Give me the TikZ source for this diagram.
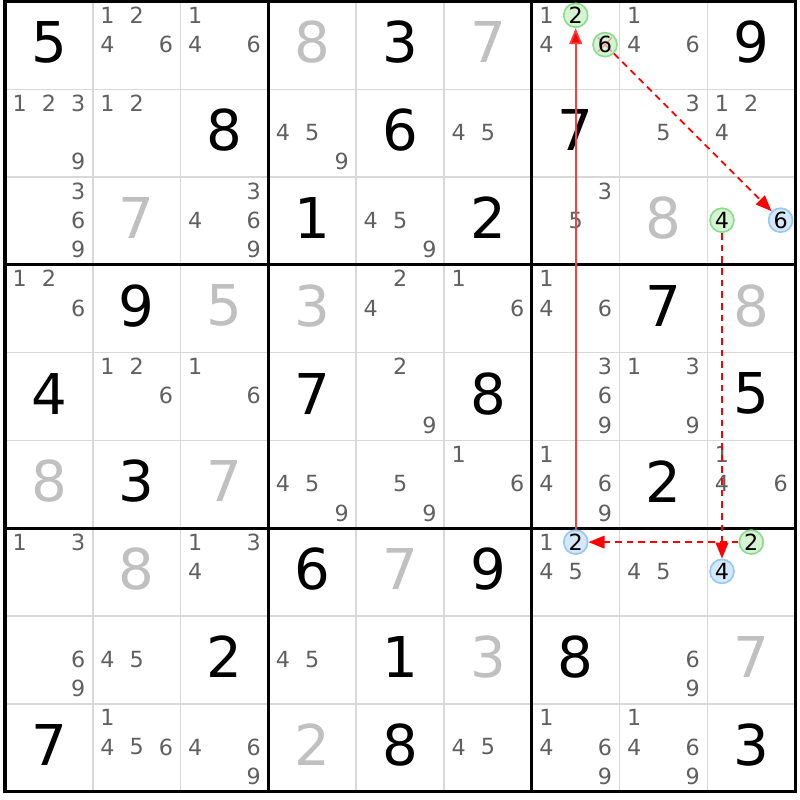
\documentclass[tikz,border=0pt]{standalone}
\usepackage{fontspec}
\setmainfont{DejaVu Sans}
\usetikzlibrary{arrows.meta}
\definecolor{solvedgrey}{RGB}{192, 192, 192}
\definecolor{candgrey}{RGB}{96, 96, 96}
\definecolor{thingrey}{RGB}{216, 216, 216}
\definecolor{greenline}{RGB}{140, 220, 140}
\definecolor{greenfill}{RGB}{212, 244, 212}
\definecolor{blueline}{RGB}{150, 200, 245}
\definecolor{bluefill}{RGB}{212, 232, 250}
\definecolor{linkred}{RGB}{255, 0, 0}
\definecolor{strongred}{RGB}{255, 60, 60}
\definecolor{elimpink}{RGB}{244, 160, 160}

\begin{document}
\begin{tikzpicture}[x=0.03cm, y=-0.03cm,
  given/.style={inner sep=0pt, text=black, font=\fontsize{48}{48}\selectfont},
  solved/.style={given, text=solvedgrey},
  cand/.style={inner sep=0pt, text=candgrey, font=\fontsize{19}{19}\selectfont},
  ringgreen/.style={circle, inner sep=0pt, minimum size=0.72cm, draw=greenline, fill=greenfill, line width=1.4pt},
  ringblue/.style={ringgreen, draw=blueline, fill=bluefill},
  ringtext/.style={cand, text=black},
  linksolid/.style={strongred, line width=1.5pt, -{Triangle[length=4.8mm, width=3.8mm, fill=linkred]}},
  linkdashed/.style={linkred, line width=1.4pt, dash pattern=on 0.2cm off 0.15cm, -{Triangle[length=4.8mm, width=3.8mm]}}]
\newcommand{\cellw}{87.8}
\newcommand{\gx}{5}
\newcommand{\gy}{1.5}
\useasboundingbox (0, 0) rectangle (800, 800);
\fill[white] (0, 0) rectangle (800, 800);
% grid
\foreach \i in {0,...,9} {
  \draw[thingrey, line width=1.3pt] (\gx+\i*\cellw, \gy) -- (\gx+\i*\cellw, \gy+9*\cellw);
  \draw[thingrey, line width=1.3pt] (\gx, \gy+\i*\cellw) -- (\gx+9*\cellw, \gy+\i*\cellw);
}
\foreach \i in {0,3,6,9} {
  \draw[black, line width=2.6pt] (\gx+\i*\cellw, \gy-1.3) -- (\gx+\i*\cellw, \gy+9*\cellw+1.3);
  \draw[black, line width=2.6pt] (\gx-1.3, \gy+\i*\cellw) -- (\gx+9*\cellw+1.3, \gy+\i*\cellw);
}
% given digits
\foreach \r/\c/\v in {1/1/5, 1/5/3, 1/9/9, 2/3/8, 2/5/6, 2/7/7, 3/4/1, 3/6/2,
    4/2/9, 4/8/7, 5/1/4, 5/4/7, 5/6/8, 5/9/5, 6/2/3, 6/8/2,
    7/4/6, 7/6/9, 8/3/2, 8/5/1, 8/7/8, 9/1/7, 9/5/8, 9/9/3} {
  \node[given] (g\r\c) at (\gx+\c*\cellw-0.5*\cellw, \gy+\r*\cellw-0.5*\cellw-3) {\v};
}
% solved digits
\foreach \r/\c/\v in {1/4/8, 1/6/7, 3/2/7, 3/8/8, 4/3/5, 4/4/3, 4/9/8, 6/1/8,
    6/3/7, 7/2/8, 7/5/7, 8/6/3, 8/9/7, 9/4/2} {
  \node[solved] (s\r\c) at (\gx+\c*\cellw-0.5*\cellw, \gy+\r*\cellw-0.5*\cellw-3) {\v};
}
% candidates
\foreach \r/\c/\ds in {1/2/{1,2,4,6}, 1/3/{1,4,6}, 1/7/{1,4}, 1/8/{1,4,6},
    2/1/{1,2,3,9}, 2/2/{1,2}, 2/4/{4,5,9}, 2/6/{4,5}, 2/8/{3,5}, 2/9/{1,2,4},
    3/1/{3,6,9}, 3/3/{3,4,6,9}, 3/5/{4,5,9}, 3/7/{3,5},
    4/1/{1,2,6}, 4/5/{2,4}, 4/6/{1,6}, 4/7/{1,4,6},
    5/2/{1,2,6}, 5/3/{1,6}, 5/5/{2,9}, 5/7/{3,6,9}, 5/8/{1,3,9},
    6/4/{4,5,9}, 6/5/{5,9}, 6/6/{1,6}, 6/7/{1,4,6,9}, 6/9/{1,4,6},
    7/1/{1,3}, 7/3/{1,3,4}, 7/7/{1,4,5}, 7/8/{4,5},
    8/1/{6,9}, 8/2/{4,5}, 8/4/{4,5}, 8/8/{6,9},
    9/2/{1,4,5,6}, 9/3/{4,6,9}, 9/6/{4,5}, 9/7/{1,4,6,9}, 9/8/{1,4,6,9}} {
  \foreach \d in \ds {
    \pgfmathsetmacro{\px}{\gx+(\c-1)*\cellw+14.6+29.3*mod(\d-1,3)}
    \pgfmathsetmacro{\py}{\gy+(\r-1)*\cellw+13.8+29.3*int((\d-1)/3)}
    \node[cand] (c\r\c\d) at (\px, \py) {\d};
  }
}
% marked candidates
\foreach \r/\c/\d/\ring in {1/7/2/ringgreen, 1/7/6/ringgreen, 3/9/4/ringgreen, 3/9/6/ringblue,
    7/7/2/ringblue, 7/9/2/ringgreen, 7/9/4/ringblue} {
  \pgfmathsetmacro{\px}{\gx+(\c-1)*\cellw+14.6+29.3*mod(\d-1,3)}
  \pgfmathsetmacro{\py}{\gy+(\r-1)*\cellw+13.8+29.3*int((\d-1)/3)}
  \node[\ring] (r\r c\c d\d) at (\px, \py) {};
}
% eliminated 6
\draw[elimpink, line width=1.2pt] ([shift={(-7,-7)}]r1c7d6.center) -- ([shift={(7,7)}]r1c7d6.center);
\draw[elimpink, line width=1.2pt] ([shift={(-7,7)}]r1c7d6.center) -- ([shift={(7,-7)}]r1c7d6.center);
\foreach \nm/\d in {r1c7d2/2, r1c7d6/6, r3c9d4/4, r3c9d6/6, r7c7d2/2, r7c9d2/2, r7c9d4/4} {
  \node[ringtext] at (\nm) {\d};
}
% chain
\draw[linksolid] (r7c7d2) -- (r1c7d2);
\draw[linkdashed] (r1c7d6) -- (r3c9d6);
\draw[linkdashed] (r3c9d4) -- (r7c9d4);
\draw[linkdashed] (r7c9d2) -- (r7c7d2);
\end{tikzpicture}
\end{document}
